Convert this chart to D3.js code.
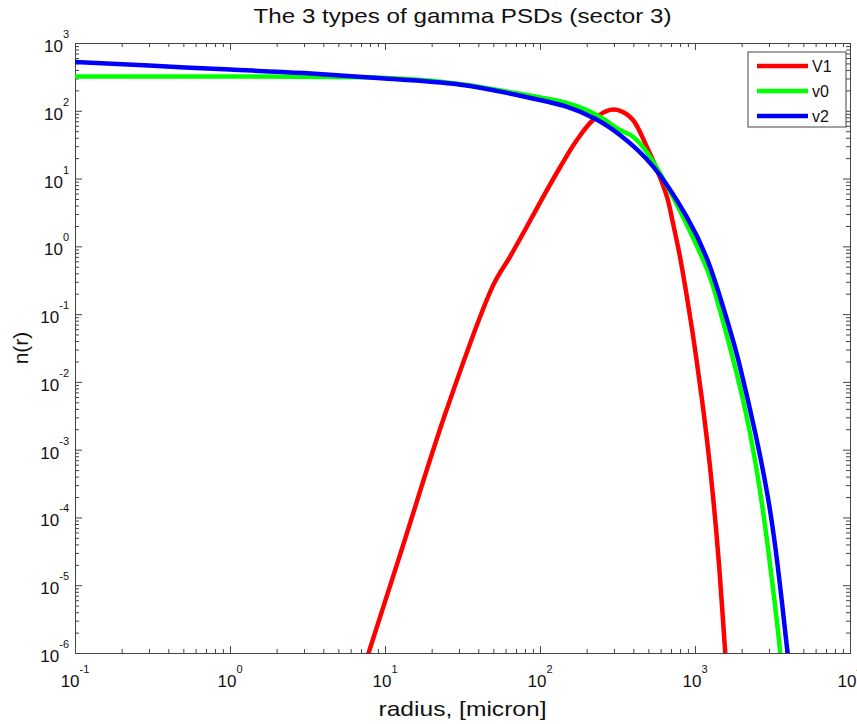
<!DOCTYPE html>
<html>
<head>
<meta charset="utf-8">
<script src="https://cdnjs.cloudflare.com/ajax/libs/d3/7.8.5/d3.min.js"></script>
<style>
  body { margin: 0; background: #fff; }
  text { font-family: "Liberation Sans", Arial, sans-serif; fill: #111; }
</style>
</head>
<body>
<div id="chart"></div>
<script>
// data (radius in micron, n(r))
var radiusV1 = [6.25, 12.5, 25, 50, 64, 82, 105, 135, 173, 220, 283, 333, 398, 490, 569, 659, 721, 800, 887, 966, 1038, 1110, 1180, 1250, 1345, 1432, 1563, 1650];
var valuesV1 = [2e-7, 2.8e-5, 3.9e-3, 0.27, 0.70, 1.93, 5.4, 14.8, 37, 73, 103, 99, 73, 29, 13.4, 5.4, 2.2, 0.70, 0.18, 0.0523, 0.0166, 5.4e-3, 1.77e-3, 5.6e-4, 1.02e-4, 1.89e-5, 1.1e-6, 2e-7];

var radiusV0 = [0.1, 1, 10, 34, 71, 150, 244, 328, 400, 538, 837, 1178, 1387, 1811, 2264, 2680, 3060, 3532, 3700];
var valuesV0 = [320, 320, 305, 240, 181, 130, 81, 52, 41, 17.6, 2.72, 0.50, 0.162, 0.0168, 1.75e-3, 1.82e-4, 1.89e-5, 1.11e-6, 2e-7];

var radiusV2 = [0.1, 0.3, 1, 3, 10, 30, 70, 100, 150, 230, 328, 538, 883, 1250, 1683, 1950, 2450, 2972, 3420, 3936, 4160];
var valuesV2 = [525, 465, 405, 360, 300, 245, 172, 144, 114, 75, 44, 15.0, 2.74, 0.50, 0.058, 0.0168, 1.75e-3, 1.82e-4, 1.89e-5, 1.11e-6, 2.9e-7];

var seriesNames = ["V1", "v0", "v2"];
var seriesColors = ["#ff0000", "#00ff00", "#0000ff"];

var xTickExps = [-1, 0, 1, 2, 3, 4];
var yTickExps = [3, 2, 1, 0, -1, -2, -3, -4, -5, -6];

var svgWidth = 857;
var svgHeight = 724;

var margin = {
  top: 43,
  right: 7,
  bottom: 71,
  left: 75
};

var width = svgWidth - margin.left - margin.right;
var height = svgHeight - margin.top - margin.bottom;

var svg = d3.select("#chart")
  .append("svg")
  .attr("width", svgWidth)
  .attr("height", svgHeight);

var chartGroup = svg.append("g")
  .attr("transform", `translate(${margin.left}, ${margin.top})`);

// scales
var xLogScale = d3.scaleLog()
  .domain([0.1, 10000])
  .range([0, width]);

var yLogScale = d3.scaleLog()
  .domain([1e-6, 1e3])
  .range([height, 0]);

// major / minor tick positions
var xMajor = xTickExps.map(e => Math.pow(10, e));
var yMajor = yTickExps.map(e => Math.pow(10, e));
var xMinor = [];
xTickExps.slice(0, -1).forEach(function(e) {
  for (var k = 2; k <= 9; k++) xMinor.push(k * Math.pow(10, e));
});
var yMinor = [];
yTickExps.slice(1).forEach(function(e) {
  for (var k = 2; k <= 9; k++) yMinor.push(k * Math.pow(10, e));
});

// axes on all four sides, ticks pointing in
function drawAxis(axisFn, scale, ticks, size, transform) {
  var g = chartGroup.append("g")
    .attr("transform", transform)
    .call(axisFn(scale).tickValues(ticks).tickSizeInner(-size).tickSizeOuter(0).tickFormat(""));
  g.select(".domain").attr("stroke", "#444");
  g.selectAll(".tick line").attr("stroke", "#444");
}

[[xMajor, 7], [xMinor, 4]].forEach(function(t) {
  drawAxis(d3.axisBottom, xLogScale, t[0], t[1], `translate(0, ${height})`);
  drawAxis(d3.axisTop, xLogScale, t[0], t[1], "translate(0, 0)");
});
[[yMajor, 7], [yMinor, 4]].forEach(function(t) {
  drawAxis(d3.axisLeft, yLogScale, t[0], t[1], "translate(0, 0)");
  drawAxis(d3.axisRight, yLogScale, t[0], t[1], `translate(${width}, 0)`);
});

// tick labels 10^n
var xLabels = chartGroup.selectAll(".xlab")
  .data(xTickExps)
  .enter()
  .append("text")
  .attr("class", "xlab")
  .attr("x", d => xLogScale(Math.pow(10, d)))
  .attr("y", height + 34)
  .style("text-anchor", "middle")
  .style("font-size", "17px");
xLabels.append("tspan").text("10");
xLabels.append("tspan").attr("dy", -14).style("font-size", "11px").text(d => d);

var yLabels = chartGroup.selectAll(".ylab")
  .data(yTickExps)
  .enter()
  .append("text")
  .attr("class", "ylab")
  .attr("x", -6)
  .attr("y", d => yLogScale(Math.pow(10, d)) + 9)
  .style("text-anchor", "end")
  .style("font-size", "17px");
yLabels.append("tspan").text("10");
yLabels.append("tspan").attr("dy", -14).style("font-size", "11px").text(d => d);

// curves
chartGroup.append("clipPath")
  .attr("id", "plotClip")
  .append("rect")
  .attr("width", width)
  .attr("height", height);

var series = [
  { name: seriesNames[0], color: seriesColors[0], r: radiusV1, n: valuesV1, curve: d3.curveCatmullRom.alpha(0.5) },
  { name: seriesNames[1], color: seriesColors[1], r: radiusV0, n: valuesV0, curve: d3.curveNatural },
  { name: seriesNames[2], color: seriesColors[2], r: radiusV2, n: valuesV2, curve: d3.curveNatural }
];

chartGroup.append("g")
  .attr("clip-path", "url(#plotClip)")
  .selectAll("path")
  .data(series)
  .enter()
  .append("path")
  .attr("d", function(s) {
    var line = d3.line()
      .x(d => xLogScale(d[0]))
      .y(d => yLogScale(d[1]))
      .curve(s.curve);
    return line(s.r.map((r, i) => [r, s.n[i]]));
  })
  .attr("fill", "none")
  .attr("stroke", s => s.color)
  .attr("stroke-width", 4.5)
  .attr("stroke-linejoin", "round");

// legend
var legend = chartGroup.append("g")
  .attr("transform", `translate(${748 - margin.left}, ${52 - margin.top})`);

legend.append("rect")
  .attr("width", 98)
  .attr("height", 75)
  .attr("fill", "#fff")
  .attr("stroke", "#444");

var legendRows = legend.selectAll(".row")
  .data(series)
  .enter()
  .append("g")
  .attr("transform", (d, i) => `translate(0, ${14 + i * 25})`);

legendRows.append("line")
  .attr("x1", 9)
  .attr("x2", 60)
  .attr("stroke", d => d.color)
  .attr("stroke-width", 4.5);

legendRows.append("text")
  .attr("x", 64)
  .attr("y", 6)
  .style("font-size", "16px")
  .text(d => d.name);

// title and axis labels
svg.append("text")
  .attr("x", margin.left + width / 2)
  .attr("y", 23)
  .attr("textLength", 418)
  .attr("lengthAdjust", "spacingAndGlyphs")
  .style("text-anchor", "middle")
  .style("font-size", "21px")
  .text("The 3 types of gamma PSDs (sector 3)");

svg.append("text")
  .attr("x", margin.left + width / 2)
  .attr("y", 716)
  .attr("textLength", 168)
  .attr("lengthAdjust", "spacingAndGlyphs")
  .style("text-anchor", "middle")
  .style("font-size", "21px")
  .text("radius, [micron]");

svg.append("text")
  .attr("transform", `translate(28, ${margin.top + height / 2}) rotate(-90)`)
  .style("text-anchor", "middle")
  .style("font-size", "21px")
  .text("n(r)");
</script>
</body>
</html>
